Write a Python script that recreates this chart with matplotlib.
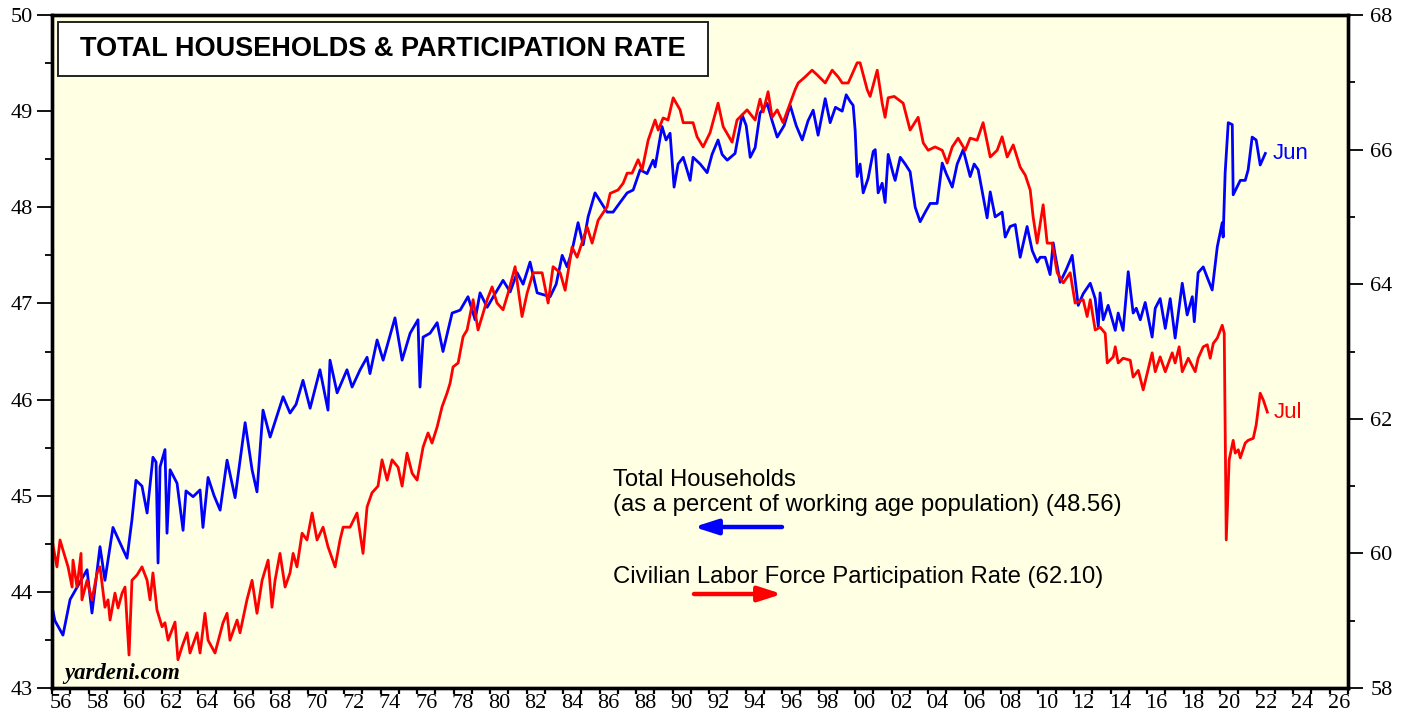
import matplotlib
matplotlib.use("Agg")
import matplotlib.pyplot as plt
from matplotlib.patches import Rectangle

# Total households as % of working age population (left axis), monthly readings
households = [
    (1956.00, 43.85), (1956.16, 43.70), (1956.60, 43.55), (1956.99, 43.92), (1957.92, 44.23),
    (1958.19, 43.78), (1958.63, 44.47), (1958.90, 44.12), (1959.34, 44.67), (1960.11, 44.35),
    (1960.38, 44.75), (1960.60, 45.16), (1960.93, 45.10), (1961.21, 44.82), (1961.53, 45.40),
    (1961.70, 45.35), (1961.81, 44.30), (1961.92, 45.30), (1962.19, 45.48), (1962.30, 44.61),
    (1962.47, 45.27), (1962.85, 45.13), (1963.18, 44.64), (1963.34, 45.05), (1963.73, 44.99),
    (1964.11, 45.06), (1964.27, 44.67), (1964.55, 45.19), (1964.88, 45.00), (1965.21, 44.85),
    (1965.59, 45.37), (1966.03, 44.98), (1966.58, 45.76), (1966.96, 45.27), (1967.23, 45.04),
    (1967.56, 45.89), (1967.95, 45.61), (1968.27, 45.80), (1968.66, 46.03), (1969.04, 45.86),
    (1969.37, 45.95), (1969.75, 46.20), (1970.14, 45.91), (1970.68, 46.31), (1971.12, 45.89),
    (1971.23, 46.41), (1971.62, 46.07), (1972.16, 46.31), (1972.44, 46.13), (1972.88, 46.31),
    (1973.26, 46.44), (1973.42, 46.27), (1973.81, 46.62), (1974.14, 46.41), (1974.79, 46.85),
    (1975.18, 46.41), (1975.62, 46.69), (1976.05, 46.83), (1976.16, 46.13), (1976.33, 46.65),
    (1976.71, 46.69), (1977.10, 46.80), (1977.42, 46.50), (1977.92, 46.90), (1978.36, 46.93),
    (1978.79, 47.07), (1979.18, 46.83), (1979.45, 47.11), (1979.84, 46.96), (1980.27, 47.10),
    (1980.71, 47.24), (1981.10, 47.12), (1981.48, 47.32), (1981.81, 47.20), (1982.19, 47.43),
    (1982.58, 47.11), (1983.29, 47.07), (1983.62, 47.20), (1983.95, 47.50), (1984.22, 47.38),
    (1984.49, 47.55), (1984.82, 47.84), (1985.10, 47.61), (1985.37, 47.90), (1985.75, 48.15),
    (1986.08, 48.05), (1986.41, 47.95), (1986.74, 47.95), (1987.12, 48.05), (1987.51, 48.15),
    (1987.84, 48.18), (1988.22, 48.39), (1988.60, 48.35), (1988.93, 48.49), (1989.04, 48.42),
    (1989.42, 48.84), (1989.64, 48.70), (1989.86, 48.77), (1990.08, 48.21), (1990.30, 48.45),
    (1990.58, 48.52), (1990.96, 48.28), (1991.12, 48.52), (1991.51, 48.45), (1991.89, 48.36),
    (1992.16, 48.55), (1992.49, 48.70), (1992.71, 48.55), (1992.99, 48.49), (1993.42, 48.56),
    (1993.81, 48.96), (1994.03, 48.85), (1994.25, 48.52), (1994.52, 48.62), (1994.79, 48.98),
    (1995.18, 49.08), (1995.45, 48.90), (1995.73, 48.73), (1996.11, 48.85), (1996.44, 49.06),
    (1996.77, 48.85), (1997.10, 48.70), (1997.42, 48.90), (1997.70, 49.01), (1997.97, 48.75),
    (1998.36, 49.13), (1998.63, 48.88), (1998.92, 49.04), (1999.29, 49.00), (1999.51, 49.17),
    (1999.73, 49.10), (1999.89, 49.06), (2000.00, 48.80), (2000.11, 48.32), (2000.27, 48.45),
    (2000.44, 48.15), (2000.71, 48.30), (2000.99, 48.58), (2001.10, 48.60), (2001.26, 48.15),
    (2001.48, 48.25), (2001.64, 48.05), (2001.81, 48.55), (2002.08, 48.35), (2002.19, 48.28),
    (2002.47, 48.52), (2002.74, 48.45), (2003.01, 48.37), (2003.29, 48.00), (2003.56, 47.85),
    (2003.84, 47.95), (2004.11, 48.04), (2004.49, 48.04), (2004.77, 48.46), (2004.99, 48.35),
    (2005.32, 48.21), (2005.59, 48.45), (2005.92, 48.60), (2006.30, 48.32), (2006.52, 48.45),
    (2006.74, 48.39), (2007.23, 47.89), (2007.40, 48.16), (2007.67, 47.90), (2008.05, 47.95),
    (2008.22, 47.69), (2008.49, 47.80), (2008.77, 47.82), (2009.04, 47.48), (2009.42, 47.80),
    (2009.70, 47.55), (2009.97, 47.43), (2010.14, 47.48), (2010.41, 47.48), (2010.68, 47.30),
    (2010.85, 47.63), (2010.96, 47.50), (2011.23, 47.22), (2011.56, 47.35), (2011.89, 47.50),
    (2012.22, 46.98), (2012.49, 47.10), (2012.88, 47.21), (2013.15, 47.05), (2013.32, 46.76),
    (2013.42, 47.11), (2013.59, 46.83), (2013.86, 46.98), (2014.25, 46.72), (2014.41, 46.90),
    (2014.68, 46.72), (2014.96, 47.33), (2015.23, 46.90), (2015.40, 46.95), (2015.62, 46.83),
    (2015.89, 47.01), (2016.27, 46.65), (2016.44, 46.95), (2016.71, 47.05), (2016.99, 46.74),
    (2017.26, 47.05), (2017.53, 46.64), (2017.92, 47.21), (2018.19, 46.88), (2018.47, 47.07),
    (2018.58, 46.81), (2018.79, 47.32), (2019.07, 47.38), (2019.29, 47.27), (2019.56, 47.14),
    (2019.84, 47.59), (2020.11, 47.84), (2020.16, 47.69), (2020.27, 48.36), (2020.44, 48.88),
    (2020.66, 48.86), (2020.71, 48.13), (2021.10, 48.28), (2021.37, 48.28), (2021.53, 48.39),
    (2021.75, 48.73), (2021.97, 48.70), (2022.19, 48.44), (2022.47, 48.56),
]

# Civilian labor force participation rate (right axis)
participation = [
    (1956.00, 60.20), (1956.27, 59.80), (1956.44, 60.20), (1956.60, 60.05), (1956.88, 59.80),
    (1957.10, 59.50), (1957.15, 59.90), (1957.37, 59.50), (1957.59, 60.00), (1957.64, 59.31),
    (1957.92, 59.60), (1958.19, 59.31), (1958.47, 59.71), (1958.63, 59.80), (1958.90, 59.20),
    (1959.07, 59.31), (1959.18, 59.01), (1959.45, 59.41), (1959.62, 59.19), (1959.84, 59.41),
    (1960.00, 59.50), (1960.22, 58.49), (1960.38, 59.60), (1960.66, 59.68), (1960.93, 59.80),
    (1961.21, 59.60), (1961.37, 59.31), (1961.53, 59.71), (1961.75, 59.16), (1962.03, 58.91),
    (1962.19, 58.97), (1962.36, 58.71), (1962.74, 58.98), (1962.90, 58.42), (1963.12, 58.61),
    (1963.40, 58.82), (1963.56, 58.52), (1963.95, 58.82), (1964.11, 58.52), (1964.38, 59.11),
    (1964.55, 58.71), (1964.93, 58.52), (1965.37, 58.97), (1965.59, 59.11), (1965.75, 58.71),
    (1966.14, 59.01), (1966.30, 58.82), (1966.68, 59.31), (1966.96, 59.60), (1967.23, 59.11),
    (1967.51, 59.60), (1967.84, 59.90), (1968.05, 59.20), (1968.22, 59.60), (1968.49, 60.00),
    (1968.77, 59.50), (1969.04, 59.71), (1969.21, 60.00), (1969.42, 59.80), (1969.70, 60.30),
    (1969.97, 60.20), (1970.25, 60.60), (1970.52, 60.20), (1970.85, 60.39), (1971.12, 60.10),
    (1971.51, 59.80), (1971.78, 60.20), (1971.95, 60.39), (1972.33, 60.39), (1972.71, 60.60),
    (1973.04, 60.00), (1973.26, 60.69), (1973.53, 60.90), (1973.86, 61.00), (1974.08, 61.39),
    (1974.36, 61.09), (1974.63, 61.39), (1974.96, 61.28), (1975.18, 61.00), (1975.45, 61.49),
    (1975.73, 61.19), (1976.00, 61.09), (1976.33, 61.58), (1976.60, 61.79), (1976.82, 61.64),
    (1977.10, 61.88), (1977.37, 62.18), (1977.64, 62.38), (1977.81, 62.53), (1977.97, 62.77),
    (1978.25, 62.83), (1978.52, 63.22), (1978.74, 63.32), (1979.07, 63.77), (1979.34, 63.32),
    (1979.84, 63.77), (1980.11, 63.96), (1980.38, 63.72), (1980.71, 63.62), (1980.99, 63.87),
    (1981.37, 64.26), (1981.75, 63.52), (1982.03, 63.87), (1982.36, 64.17), (1982.85, 64.17),
    (1983.18, 63.72), (1983.45, 64.26), (1983.84, 64.17), (1984.11, 63.91), (1984.49, 64.55),
    (1984.77, 64.40), (1985.32, 64.85), (1985.59, 64.61), (1985.92, 64.95), (1986.41, 65.15),
    (1986.58, 65.35), (1987.01, 65.40), (1987.29, 65.50), (1987.51, 65.65), (1987.78, 65.65),
    (1988.11, 65.85), (1988.33, 65.70), (1988.66, 66.14), (1989.04, 66.44), (1989.21, 66.29),
    (1989.48, 66.47), (1989.75, 66.44), (1990.03, 66.77), (1990.41, 66.59), (1990.58, 66.40),
    (1991.12, 66.40), (1991.34, 66.19), (1991.67, 66.04), (1992.05, 66.25), (1992.49, 66.69),
    (1992.77, 66.34), (1993.26, 66.11), (1993.53, 66.44), (1994.08, 66.59), (1994.52, 66.44),
    (1994.79, 66.75), (1994.96, 66.56), (1995.23, 66.86), (1995.45, 66.48), (1995.73, 66.59),
    (1996.05, 66.40), (1996.44, 66.69), (1996.71, 66.89), (1996.88, 66.99), (1997.26, 67.08),
    (1997.64, 67.18), (1997.92, 67.11), (1998.36, 66.99), (1998.74, 67.18), (1999.07, 67.08),
    (1999.29, 66.99), (1999.62, 66.99), (2000.11, 67.29), (2000.27, 67.29), (2000.66, 66.89),
    (2000.82, 66.79), (2001.21, 67.18), (2001.48, 66.69), (2001.64, 66.48), (2001.81, 66.77),
    (2002.14, 66.79), (2002.63, 66.69), (2003.01, 66.29), (2003.45, 66.48), (2003.73, 66.10),
    (2004.00, 65.99), (2004.38, 66.04), (2004.77, 65.99), (2005.04, 65.80), (2005.32, 66.04),
    (2005.64, 66.17), (2006.03, 65.99), (2006.30, 66.17), (2006.68, 66.14), (2007.01, 66.40),
    (2007.40, 65.89), (2007.78, 65.99), (2008.05, 66.19), (2008.33, 65.89), (2008.66, 66.07),
    (2009.04, 65.74), (2009.32, 65.62), (2009.59, 65.40), (2009.75, 65.00), (2009.97, 64.61),
    (2010.30, 65.18), (2010.52, 64.61), (2010.79, 64.61), (2011.07, 64.17), (2011.40, 64.02),
    (2011.78, 64.17), (2012.05, 63.72), (2012.49, 63.77), (2012.71, 63.52), (2012.88, 63.77),
    (2013.15, 63.32), (2013.42, 63.36), (2013.70, 63.27), (2013.81, 62.83), (2014.14, 62.92),
    (2014.25, 63.07), (2014.41, 62.83), (2014.68, 62.90), (2015.07, 62.87), (2015.23, 62.62),
    (2015.51, 62.72), (2015.78, 62.43), (2016.00, 62.68), (2016.27, 62.98), (2016.44, 62.70),
    (2016.71, 62.92), (2016.99, 62.70), (2017.37, 62.98), (2017.53, 62.83), (2017.75, 63.07),
    (2017.92, 62.70), (2018.25, 62.90), (2018.63, 62.70), (2018.79, 62.90), (2019.07, 63.07),
    (2019.29, 63.10), (2019.45, 62.90), (2019.62, 63.12), (2019.84, 63.20), (2020.11, 63.39),
    (2020.22, 63.27), (2020.33, 60.20), (2020.49, 61.39), (2020.71, 61.68), (2020.82, 61.49),
    (2020.99, 61.54), (2021.10, 61.42), (2021.37, 61.64), (2021.53, 61.68), (2021.81, 61.71),
    (2021.97, 61.91), (2022.19, 62.38), (2022.36, 62.28), (2022.58, 62.10),
]

year_labels = ["56", "58", "60", "62", "64", "66", "68", "70", "72", "74", "76", "78",
               "80", "82", "84", "86", "88", "90", "92", "94", "96", "98", "00", "02",
               "04", "06", "08", "10", "12", "14", "16", "18", "20", "22", "24", "26"]

hh_x, hh_y = zip(*households)
lf_x, lf_y = zip(*participation)

W, H = 1407, 719
fig = plt.figure(figsize=(W / 100, H / 100), dpi=100)
ax = fig.add_axes([52 / W, 1 - 688 / H, 1296 / W, 673 / H])
ax.set_facecolor("#ffffe4")
ax2 = ax.twinx()

ax.plot(hh_x, hh_y, color="#0000ff", lw=2.0, zorder=3)
ax2.plot(lf_x, lf_y, color="#ff0000", lw=2.0, zorder=2)

ax.set_xlim(1956, 2027)
ax.set_ylim(43, 50)
ax2.set_ylim(58, 68)

serif = "Liberation Serif"
sans = "Liberation Sans"

# x ticks: a tick at every year boundary, labels centred in the even years
ax.set_xticks(range(1956, 2028))
ax.set_xticklabels([])
ax.set_xticks([1956.5 + 2 * i for i in range(len(year_labels))], minor=True)
ax.set_xticklabels(year_labels, minor=True, fontfamily=serif, fontsize=16)
ax.tick_params(axis="x", which="major", direction="out", length=4.5, width=1.6)
ax.tick_params(axis="x", which="minor", length=0, pad=4)

ax.set_yticks(range(43, 51))
ax.set_yticklabels([str(v) for v in range(43, 51)], fontfamily=serif, fontsize=16)
ax.set_yticks([v + 0.5 for v in range(43, 50)], minor=True)
ax.tick_params(axis="y", which="major", direction="out", length=11, width=1.3, pad=3)
ax.tick_params(axis="y", which="minor", direction="out", length=5, width=1.3)

ax2.set_yticks(range(58, 69, 2))
ax2.set_yticklabels([str(v) for v in range(58, 69, 2)], fontfamily=serif, fontsize=16)
ax2.set_yticks(range(59, 68, 2), minor=True)
ax2.tick_params(axis="y", which="major", direction="out", length=11, width=1.3, pad=5)
ax2.tick_params(axis="y", which="minor", direction="out", length=5, width=1.3)

for a in (ax, ax2):
    for s in a.spines.values():
        s.set_linewidth(2.4)
        s.set_color("black")

# title box
fig.patches.append(Rectangle((58 / W, 1 - 76 / H), 650 / W, 54 / H, transform=fig.transFigure,
                             facecolor="white", edgecolor="#222222", lw=1.4, zorder=5))
fig.text(80 / W, 1 - 49 / H, "TOTAL HOUSEHOLDS & PARTICIPATION RATE", fontfamily=sans,
         fontweight="bold", fontsize=19.5, va="center", ha="left", zorder=6)

# legend texts and arrows
fig.text(613 / W, 1 - 486 / H, "Total Households", fontfamily=sans, fontsize=17.2,
         va="baseline", ha="left")
fig.text(613 / W, 1 - 511 / H, "(as a percent of working age population) (48.56)",
         fontfamily=sans, fontsize=17.2, va="baseline", ha="left")
fig.text(613 / W, 1 - 583 / H, "Civilian Labor Force Participation Rate (62.10)",
         fontfamily=sans, fontsize=17.2, va="baseline", ha="left")
ax.annotate("", xy=(694 / W, 1 - 527 / H), xytext=(782 / W, 1 - 527 / H),
            xycoords="figure fraction", textcoords="figure fraction",
            arrowprops=dict(arrowstyle="-|>,head_length=1.4,head_width=0.45", color="#0000ff",
                            lw=3.2, shrinkA=0, shrinkB=0))
ax.annotate("", xy=(782 / W, 1 - 594 / H), xytext=(694 / W, 1 - 594 / H),
            xycoords="figure fraction", textcoords="figure fraction",
            arrowprops=dict(arrowstyle="-|>,head_length=1.4,head_width=0.45", color="#ff0000",
                            lw=3.2, shrinkA=0, shrinkB=0))

# end-of-series month labels
ax.text(hh_x[-1] + 0.4, hh_y[-1], "Jun", color="#0000ff", fontfamily=sans, fontsize=16,
        va="center", ha="left")
ax2.text(lf_x[-1] + 0.35, lf_y[-1], "Jul", color="#ff0000", fontfamily=sans, fontsize=16,
         va="center", ha="left")

fig.text(64 / W, 1 - 673 / H, "yardeni.com", fontfamily=serif, fontweight="bold",
         fontstyle="italic", fontsize=16.4, va="center", ha="left")

fig.savefig("out.png", dpi=100)
